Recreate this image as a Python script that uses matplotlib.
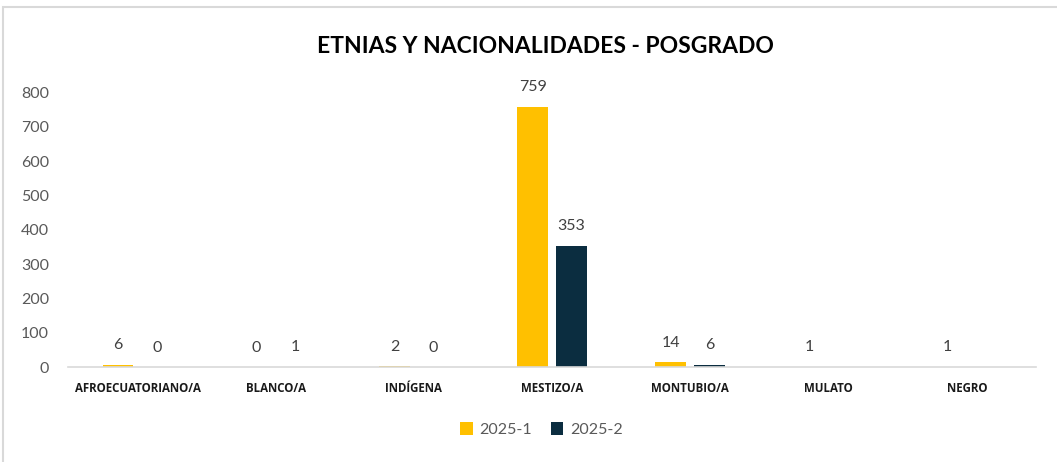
import numpy as np
import matplotlib.pyplot as plt
from matplotlib.patches import Rectangle

categories = ['AFROECUATORIANO/A', 'BLANCO/A', 'INDÍGENA', 'MESTIZO/A',
              'MONTUBIO/A', 'MULATO', 'NEGRO']
s2025_1 = [6, 0, 2, 759, 14, 1, 1]
s2025_2 = [0, 1, 0, 353, 6, np.nan, np.nan]
yticks = [0, 100, 200, 300, 400, 500, 600, 700, 800]

plt.rcParams['font.family'] = ['Lato', 'DejaVu Sans']

fig = plt.figure(figsize=(10.57, 4.62), dpi=100)
ax = fig.add_axes([0.0647, 0.2056, 0.9153, 0.5938])

fig.patches.append(Rectangle((0.003, -0.01), 1.2, 0.995, transform=fig.transFigure,
                             fill=False, edgecolor='#d9d9d9', lw=1.5))

x = np.arange(len(categories))
w = 0.224
off = 0.141
b1 = ax.bar(x - off, s2025_1, w, color='#FFC000', label='2025-1')
b2 = ax.bar(x + off, s2025_2, w, color='#0B2D40', label='2025-2')

for bars, vals in ((b1, s2025_1), (b2, s2025_2)):
    for rect, v in zip(bars, vals):
        if np.isnan(v):
            continue
        ax.annotate(f'{int(v)}', (rect.get_x() + rect.get_width() / 2, v),
                    xytext=(0, 9), textcoords='offset points', ha='center',
                    va='bottom', fontsize=11.5, color='#404040')

ax.set_xlim(-0.5, len(categories) - 0.5)
ax.set_ylim(0, 800)
ax.set_yticks(yticks)
ax.set_xticks(x)
ax.set_xticklabels(categories, fontsize=8.3, fontweight='bold', color='#1a1a1a',
                   family='Open Sans')
ax.tick_params(axis='y', labelsize=11.5, labelcolor='#595959', length=0, pad=14)
ax.tick_params(axis='x', length=0, pad=11)
for s in ['top', 'right', 'left']:
    ax.spines[s].set_visible(False)
ax.spines['bottom'].set_color('#d9d9d9')
ax.spines['bottom'].set_linewidth(1.2)

fig.text(0.516, 0.90, 'ETNIAS Y NACIONALIDADES - POSGRADO', ha='center', va='center',
         fontsize=16.5, fontweight='bold', color='#000000')

fig.legend(loc='center', bbox_to_anchor=(0.512, 0.07), ncol=2, frameon=False,
           fontsize=11.5, handlelength=0.8, handleheight=0.8, columnspacing=1.2,
           handletextpad=0.4, labelcolor='#595959')

fig.savefig('out.png', dpi=100)
